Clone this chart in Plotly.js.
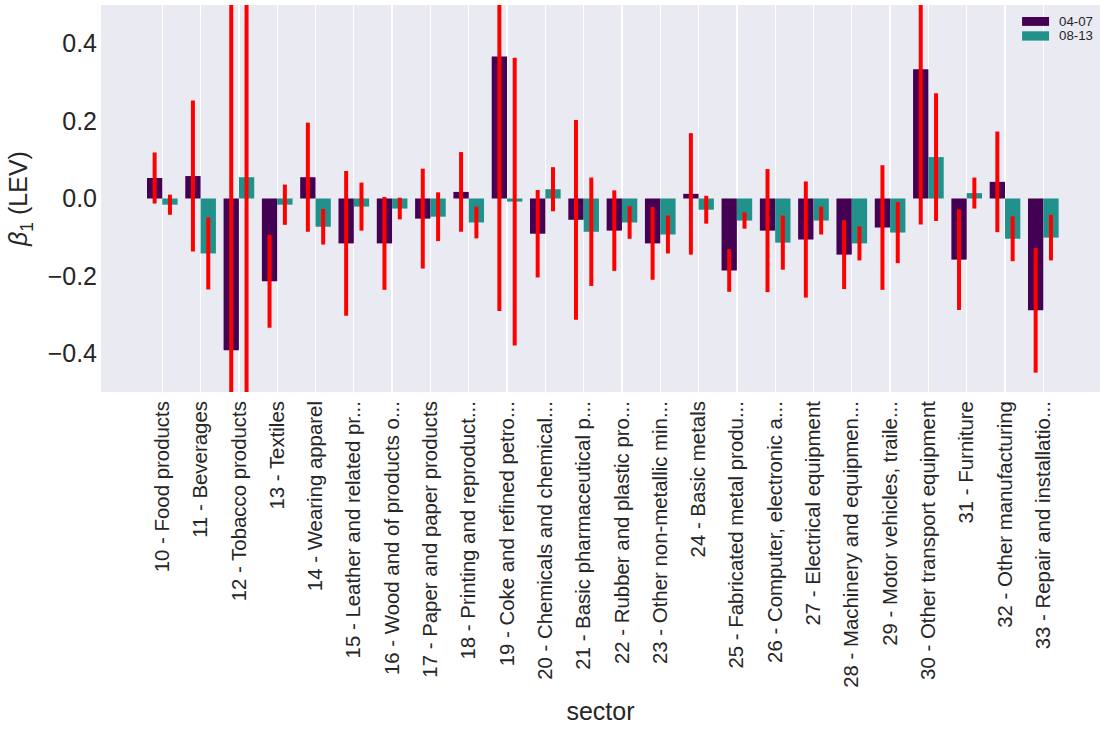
<!DOCTYPE html>
<html>
<head>
<meta charset="utf-8">
<script src="https://cdn.plot.ly/plotly-3.0.1.min.js"></script>
<style>html,body{margin:0;padding:0;background:#fff;}#chart{width:1102px;height:729px;}</style>
</head>
<body>
<div id="chart"></div>
<script>
const sectors = [
  "10 - Food products", "11 - Beverages", "12 - Tobacco products", "13 - Textiles",
  "14 - Wearing apparel", "15 - Leather and related pr...", "16 - Wood and of products o...",
  "17 - Paper and paper products", "18 - Printing and reproduct...", "19 - Coke and refined petro...",
  "20 - Chemicals and chemical...", "21 - Basic pharmaceutical p...", "22 - Rubber and plastic pro...",
  "23 - Other non-metallic min...", "24 - Basic metals", "25 - Fabricated metal produ...",
  "26 - Computer, electronic a...", "27 - Electrical equipment", "28 - Machinery and equipmen...",
  "29 - Motor vehicles, traile...", "30 - Other transport equipment", "31 - Furniture",
  "32 - Other manufacturing", "33 - Repair and installatio..."
];
const seriesNames = ["04-07", "08-13"];
const beta0407 = [0.053, 0.058, -0.392, -0.214, 0.055, -0.116, -0.116, -0.052, 0.017, 0.367, -0.091, -0.055,
                  -0.083, -0.116, 0.012, -0.186, -0.083, -0.106, -0.145, -0.075, 0.334, -0.158, 0.043, -0.289];
const err0407  = [0.066, 0.195, 0.95, 0.12, 0.141, 0.187, 0.12, 0.129, 0.103, 0.658, 0.113, 0.258,
                  0.104, 0.094, 0.157, 0.055, 0.159, 0.15, 0.089, 0.161, 0.401, 0.13, 0.13, 0.161];
const beta0813 = [-0.016, -0.142, 0.055, -0.016, -0.073, -0.021, -0.026, -0.047, -0.062, -0.008, 0.024, -0.086,
                  -0.062, -0.093, -0.029, -0.057, -0.114, -0.057, -0.116, -0.088, 0.107, 0.014, -0.104, -0.101];
const err0813  = [0.026, 0.093, 0.75, 0.052, 0.046, 0.062, 0.028, 0.063, 0.041, 0.372, 0.057, 0.14,
                  0.042, 0.049, 0.036, 0.021, 0.07, 0.036, 0.044, 0.079, 0.165, 0.04, 0.058, 0.059];

const colors = ["#440154", "#21918c"];
const FONT = "Liberation Sans, Arial, sans-serif";
const TXT = "#262626";

function barTrace(name, y, e, color) {
  return {
    type: "bar", name: name, x: sectors, y: y,
    marker: {color: color, line: {width: 0}},
    error_y: {type: "data", array: e, visible: true, color: "#ff0000", thickness: 4, width: 0},
    hoverinfo: "x+y"
  };
}

const data = [
  barTrace(seriesNames[0], beta0407, err0407, colors[0]),
  barTrace(seriesNames[1], beta0813, err0813, colors[1])
];

// legend drawn as paper-referenced patches
const legShapes = [], legAnn = [];
const legRows = [[0.969, 0.946], [0.932, 0.908]];
seriesNames.forEach((n, i) => {
  legShapes.push({type: "rect", xref: "paper", yref: "paper", x0: 0.922, x1: 0.949,
    y0: legRows[i][1], y1: legRows[i][0], fillcolor: colors[i], line: {width: 0}});
  legAnn.push({xref: "paper", yref: "paper", x: 0.957, y: (legRows[i][0] + legRows[i][1]) / 2,
    xanchor: "left", yanchor: "middle", text: n, showarrow: false,
    font: {family: FONT, size: 13.3, color: TXT}});
});

const layout = {
  width: 1102, height: 729,
  margin: {l: 101, r: 2, t: 5, b: 337},
  paper_bgcolor: "#ffffff", plot_bgcolor: "#EAEAF2",
  font: {family: FONT, color: TXT},
  barmode: "group", bargap: 0.2, bargroupgap: 0,
  showlegend: false,
  xaxis: {
    type: "category", range: [-1.6, 24.48],
    tickangle: -90, tickfont: {size: 20.4, color: TXT},
    showgrid: true, gridcolor: "#ffffff", gridwidth: 1.3,
    ticks: "", showline: false, zeroline: false,
    automargin: false, ticklabelstandoff: 4,
    title: {text: "sector", font: {size: 25, color: TXT}, standoff: 15}
  },
  yaxis: {
    range: [-0.5, 0.5], tickvals: [-0.4, -0.2, 0, 0.2, 0.4],
    ticktext: ["\u22120.4", "\u22120.2", "0.0", "0.2", "0.4"],
    tickfont: {size: 25, color: TXT},
    showgrid: false, zeroline: false, ticks: "", showline: false,
    automargin: false, ticklabelstandoff: 3,
    title: {text: "<i>β</i><sub>1</sub> (LEV)", font: {size: 25, color: TXT}, standoff: 12}
  },
  shapes: legShapes,
  annotations: legAnn
};

Plotly.newPlot("chart", data, layout, {displayModeBar: false, staticPlot: true});
</script>
</body>
</html>
